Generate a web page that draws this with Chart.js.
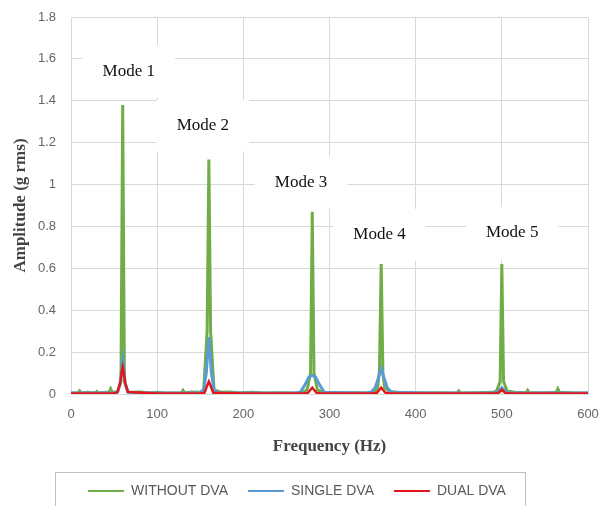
<!DOCTYPE html>
<html>
<head>
<meta charset="utf-8">
<script src="https://cdn.jsdelivr.net/npm/chart.js@4.4.1/dist/chart.umd.min.js"></script>
<style>
  html, body { margin: 0; padding: 0; background: #fff; }
  #wrap { width: 601px; height: 506px; position: relative; }
</style>
</head>
<body>
<div id="wrap"><canvas id="fftChart"></canvas></div>
<script>
// frequency (Hz) / amplitude (g rms)
const withoutHz = [0, 8, 10, 12, 20, 28, 30, 32, 40, 44, 46, 48, 54, 58, 60, 62, 66, 72, 80, 90,
  100, 110, 128, 130, 132, 140, 150, 154, 158, 160, 162, 166, 175, 185, 195, 210, 225, 240, 255, 268,
  274, 278, 280, 282, 286, 295, 310, 330, 345, 352, 356, 358, 360, 362, 364, 370, 380, 400, 420, 448,
  450, 452, 470, 490, 494, 498, 500, 502, 506, 515, 528, 530, 532, 550, 563, 565, 567, 580, 600];
const withoutAmp = [0.005, 0.005, 0.015, 0.005, 0.008, 0.005, 0.012, 0.005, 0.008, 0.008, 0.025, 0.008, 0.01, 0.06, 1.38, 0.06, 0.01, 0.008, 0.01, 0.006,
  0.008, 0.005, 0.005, 0.018, 0.006, 0.01, 0.008, 0.02, 0.3, 1.12, 0.3, 0.02, 0.008, 0.01, 0.006, 0.008, 0.005, 0.006, 0.005, 0.006,
  0.02, 0.1, 0.87, 0.1, 0.02, 0.006, 0.005, 0.006, 0.005, 0.008, 0.03, 0.12, 0.62, 0.1, 0.03, 0.012, 0.008, 0.005, 0.006, 0.005,
  0.015, 0.005, 0.006, 0.008, 0.015, 0.06, 0.62, 0.06, 0.015, 0.008, 0.006, 0.018, 0.006, 0.006, 0.008, 0.025, 0.008, 0.006, 0.005];

const singleHz = [0, 40, 50, 54, 57, 60, 63, 66, 70, 100, 145, 150, 154, 157, 160, 163, 166, 170, 200, 260,
  266, 271, 276, 280, 284, 289, 294, 340, 348, 353, 357, 360, 363, 367, 372, 420, 490, 495, 500, 505, 510, 600];
const singleAmp = [0.005, 0.005, 0.006, 0.01, 0.05, 0.16, 0.05, 0.01, 0.006, 0.005, 0.005, 0.006, 0.02, 0.1, 0.27, 0.1, 0.02, 0.006, 0.005, 0.005,
  0.008, 0.04, 0.08, 0.09, 0.08, 0.04, 0.008, 0.005, 0.008, 0.03, 0.08, 0.12, 0.08, 0.03, 0.008, 0.005, 0.005, 0.008, 0.03, 0.008, 0.005, 0.005];

const dualHz = [0, 50, 54, 57, 59, 60, 61, 63, 66, 100, 150, 155, 158, 160, 162, 165, 200, 270, 275, 278,
  280, 282, 285, 290, 350, 355, 358, 360, 362, 365, 370, 490, 496, 500, 504, 510, 600];
const dualAmp = [0.002, 0.002, 0.01, 0.05, 0.11, 0.13, 0.11, 0.05, 0.01, 0.002, 0.002, 0.006, 0.04, 0.06, 0.04, 0.006, 0.002, 0.002, 0.006, 0.02,
  0.03, 0.02, 0.006, 0.002, 0.002, 0.006, 0.02, 0.03, 0.02, 0.006, 0.002, 0.002, 0.005, 0.02, 0.005, 0.002, 0.002];

// mode callouts (placed in data units)
const modeNames = ['Mode 1', 'Mode 2', 'Mode 3', 'Mode 4', 'Mode 5'];
const modeHz = [67, 153, 267, 358, 512];
const modeAmp = [1.54, 1.28, 1.01, 0.76, 0.77];

const serif = '"Liberation Serif", "Times New Roman", serif';
const sans = '"Liberation Sans", Arial, sans-serif';
const gridColor = '#d9d9d9';

function toPoints(hz, amp) {
  return hz.map((x, i) => ({ x: x, y: amp[i] }));
}

// white label boxes with text, drawn over the grid but under the lines
const modeLabels = {
  id: 'modeLabels',
  beforeDatasetsDraw(chart) {
    const ctx = chart.ctx;
    const xs = chart.scales.x, ys = chart.scales.y;
    ctx.save();
    ctx.font = '17px ' + serif;
    ctx.textAlign = 'center';
    ctx.textBaseline = 'middle';
    modeNames.forEach((name, i) => {
      const cx = xs.getPixelForValue(modeHz[i]);
      const cy = ys.getPixelForValue(modeAmp[i]);
      const w = ctx.measureText(name).width + 40;
      ctx.fillStyle = '#fff';
      ctx.fillRect(cx - w / 2, cy - 26, w, 52);
      ctx.fillStyle = '#111';
      ctx.fillText(name, cx, cy);
    });
    ctx.restore();
  }
};

// thin grey frame round the legend
const legendFrame = {
  id: 'legendFrame',
  afterDraw(chart) {
    const lg = chart.legend;
    if (!lg || !lg.legendHitBoxes.length) return;
    const boxes = lg.legendHitBoxes;
    const left = Math.min(...boxes.map(b => b.left)) - 33;
    const right = Math.max(...boxes.map(b => b.left + b.width)) + 19;
    const mid = boxes[0].top + boxes[0].height / 2;
    const ctx = chart.ctx;
    ctx.save();
    ctx.strokeStyle = '#bfbfbf';
    ctx.lineWidth = 1;
    ctx.strokeRect(Math.round(left) + 0.5, Math.round(mid - 19) + 0.5, Math.round(right - left), 36);
    ctx.restore();
  }
};

const ctx = document.getElementById('fftChart').getContext('2d');
new Chart(ctx, {
  type: 'line',
  data: {
    datasets: [
      {
        label: 'WITHOUT DVA',
        data: toPoints(withoutHz, withoutAmp),
        borderColor: '#70ad47',
        backgroundColor: '#70ad47',
        borderWidth: 3,
        order: 3
      },
      {
        label: 'SINGLE DVA',
        data: toPoints(singleHz, singleAmp),
        borderColor: '#5b9bd5',
        backgroundColor: '#5b9bd5',
        borderWidth: 3,
        order: 2
      },
      {
        label: 'DUAL DVA',
        data: toPoints(dualHz, dualAmp),
        borderColor: '#e3161b',
        backgroundColor: '#e3161b',
        borderWidth: 2.5,
        order: 1
      }
    ]
  },
  options: {
    responsive: true,
    maintainAspectRatio: false,
    animation: false,
    layout: { padding: { top: 17, right: 13, left: 6, bottom: -2 } },
    elements: {
      point: { radius: 0, hoverRadius: 0 },
      line: { tension: 0 }
    },
    scales: {
      x: {
        type: 'linear',
        min: 0,
        max: 600,
        afterFit(scale) { scale.paddingLeft = 0; scale.paddingRight = 0; },
        ticks: { stepSize: 100, color: '#666', font: { family: sans, size: 13 }, padding: 13 },
        grid: { color: gridColor, drawTicks: false },
        border: { color: gridColor },
        title: {
          display: true,
          text: 'Frequency (Hz)',
          color: '#444',
          font: { family: serif, size: 17, weight: 'bold' },
          padding: { top: 1, bottom: 7 }
        }
      },
      y: {
        min: 0,
        max: 1.8,
        afterFit(scale) { scale.width = 65; scale.paddingTop = 0; scale.paddingBottom = 0; },
        ticks: {
          stepSize: 0.2,
          color: '#666',
          font: { family: sans, size: 13 },
          padding: 15,
          callback: v => String(+v.toFixed(1))
        },
        grid: { color: gridColor, drawTicks: false },
        border: { color: gridColor },
        title: {
          display: true,
          text: 'Amplitude (g rms)',
          color: '#444',
          font: { family: serif, size: 17, weight: 'bold' },
          padding: { top: 4, bottom: 4 }
        }
      }
    },
    plugins: {
      legend: {
        position: 'bottom',
        labels: {
          usePointStyle: true,
          pointStyle: 'line',
          pointStyleWidth: 36,
          color: '#595959',
          font: { family: sans, size: 14 },
          padding: 20,
          sort: (a, b) => a.datasetIndex - b.datasetIndex,
          generateLabels(chart) {
            const items = Chart.defaults.plugins.legend.labels.generateLabels(chart);
            items.forEach(it => { it.lineWidth = 2; it.pointStyle = 'line'; });
            return items;
          }
        }
      },
      tooltip: { enabled: false }
    }
  },
  plugins: [modeLabels, legendFrame]
});
</script>
</body>
</html>
